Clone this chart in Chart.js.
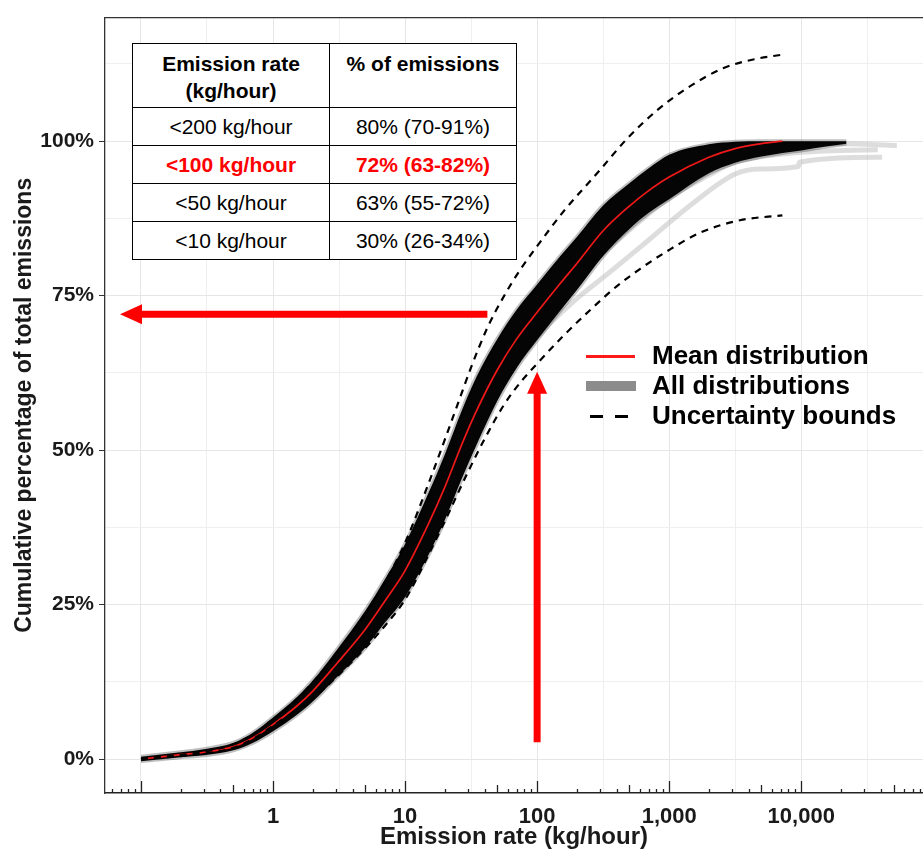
<!DOCTYPE html>
<html>
<head>
<meta charset="utf-8">
<script src="https://cdn.jsdelivr.net/npm/chart.js@4/dist/chart.umd.min.js"></script>
<style>
  body { margin: 0; background: #fff; }
  #wrap { position: relative; width: 923px; height: 849px; font-family: "Liberation Sans", Arial, sans-serif; }
  #tbl { position: absolute; left: 132px; top: 43px; width: 385px; border-collapse: collapse; background: #fff; font-size: 21px; color: #000; }
  #tbl td { border: 1.5px solid #000; text-align: center; padding: 0; height: 37px; }
  #tbl td.h { font-weight: bold; vertical-align: top; height: 64px; line-height: 27px; padding-top: 6px; box-sizing: border-box; }
  #tbl tr.hi td { color: #ff0000; font-weight: bold; }
  #legend { position: absolute; left: 586px; top: 340px; font-weight: bold; font-size: 26px; color: #000; }
  .row { position: relative; height: 30px; line-height: 30px; padding-left: 66px; white-space: nowrap; }
  .sym { position: absolute; left: 0; }
</style>
</head>
<body>
<div id="wrap">
  <canvas id="c" width="923" height="849"></canvas>
  <table id="tbl"></table>
  <div id="legend"></div>
</div>
<script>
// mean distribution
const meanX = [0.1, 0.2, 0.3, 0.5, 0.7, 1, 1.5, 2, 3, 5, 7, 10, 15, 20, 27, 35, 50, 70, 100, 150, 200, 316, 500, 700, 1000, 2000, 3162, 5000, 7200];
const meanY = [0, 0.7, 1.1, 2, 3.4, 5.6, 8.5, 11, 15.3, 21, 25.5, 30.5, 38, 44, 51, 56.5, 63, 68, 72.3, 77, 80.2, 85.5, 89.5, 92, 94.2, 97.4, 98.8, 99.6, 100];

// uncertainty bounds
const upperX = [0.1, 0.3, 0.5, 0.7, 1, 1.5, 2, 3, 5, 7, 10, 15, 20, 25, 31.5, 42, 55, 75, 100, 158, 290, 480, 810, 1370, 2560, 4500, 7200];
const upperY = [0, 1.2, 2.4, 3.9, 6.4, 9.6, 12.4, 16.9, 23.5, 28.5, 35, 44.5, 51.7, 57.4, 63.3, 69.8, 74.6, 79.3, 83, 88.6, 95, 100.4, 105, 108.6, 111.8, 113.3, 114];
const lowerX = [0.1, 0.3, 0.5, 0.7, 1, 2, 3, 5, 7, 10, 15, 20, 30, 40, 56, 75, 100, 158, 250, 400, 600, 965, 1720, 3440, 7200];
const lowerY = [0, 0.9, 1.8, 3.2, 5.4, 9.8, 13.2, 18, 21.5, 25.8, 33, 38.5, 46.5, 51.8, 57.3, 61, 64, 68.5, 72.6, 76.5, 79.3, 82.2, 85.2, 87.2, 88];

// envelope of all distributions (dark band)
const bandX  = [0.1, 0.2, 0.3, 0.5, 0.7, 1, 1.5, 2, 3, 5, 7, 10, 15, 20, 27, 35, 50, 70, 100, 150, 200, 316, 500, 700, 1000, 2000, 3162, 5000, 7200, 10000, 15000, 22000];
const bandHi = [0.35, 1.1, 1.6, 2.6, 4.2, 6.7, 9.9, 12.7, 17.5, 24, 29, 34.8, 43, 49.3, 56.5, 62, 68, 72.7, 76.8, 81.4, 84.5, 89.6, 93.2, 95.6, 97.8, 99.5, 99.9, 100, 100, 100, 100, 100];
const bandLo = [-0.35, 0.3, 0.6, 1.4, 2.6, 4.5, 7.1, 9.3, 13.1, 18, 22, 26.2, 33, 38.7, 45.5, 51, 58, 63.3, 67.8, 72.6, 75.9, 81.4, 85.8, 88.4, 90.6, 94.8, 96.5, 97.5, 98.1, 98.5, 99.1, 99.6];

// a few stray distributions that run outside the band
const tail1X = [70, 100, 187, 375, 700, 1440, 3162, 4800, 9500, 9700, 41000];
const tail1Y = [64, 68.3, 74, 79.2, 84, 89.6, 94.7, 95.5, 95.9, 96.6, 97.4];
const tail2X = [300, 1000, 2000, 3162, 10000, 20000, 38000];
const tail2Y = [81.5, 90.8, 94.5, 96.6, 98.2, 98.5, 98.6];
const tail3X = [2000, 5000, 10000, 20000, 53000];
const tail3Y = [98.6, 99.4, 99.6, 99.6, 99.3];

// axes
const xGridVals = [0.1, 0.316, 1, 3.16, 10, 31.6, 100, 316, 1000, 3162, 10000, 31623];
const xLabelVals = [1, 10, 100, 1000, 10000];
const xLabelText = ['1', '10', '100', '1,000', '10,000'];
const yGridVals = [0, 12.5, 25, 37.5, 50, 62.5, 75, 87.5, 100, 112.5];
const yLabelVals = [0, 25, 50, 75, 100];

// arrows (start -> tip, data units)
const arrowStartX = [42, 100];
const arrowStartY = [72, 2.7];
const arrowEndX = [0.0694, 100];
const arrowEndY = [72, 62.7];

// inset table
const tableHead = ['Emission rate<br>(kg/hour)', '% of emissions'];
const tableRate = ['<200 kg/hour', '<100 kg/hour', '<50 kg/hour', '<10 kg/hour'];
const tablePct = ['80% (70-91%)', '72% (63-82%)', '63% (55-72%)', '30% (26-34%)'];
const tableHighlight = 1;

const legendItems = ['Mean distribution', 'All distributions', 'Uncertainty bounds'];

const pts = (xs, ys) => xs.map((x, i) => ({ x: x, y: ys[i] }));
const FONT = '"Liberation Sans", Arial, sans-serif';
const TXT = '#1a1a1a';

// table
const esc = s => s.replace(/</g, '&lt;');
let html = '<tr><td class="h">' + tableHead[0] + '</td><td class="h">' + tableHead[1] + '</td></tr>';
tableRate.forEach((r, i) => {
  html += '<tr' + (i === tableHighlight ? ' class="hi"' : '') + '><td style="width:196px">' + esc(r) + '</td><td>' + tablePct[i] + '</td></tr>';
});
document.getElementById('tbl').innerHTML = html;

// legend
const syms = [
  '<div class="sym" style="top:15px;width:49px;height:3px;background:#ff1a1a"></div>',
  '<div class="sym" style="top:11px;width:50px;height:10px;background:#8c8c8c"></div>',
  '<div class="sym" style="top:15px;left:4px;width:13px;height:3px;background:#000"></div><div class="sym" style="top:15px;left:29px;width:13px;height:3px;background:#000"></div>'
];
document.getElementById('legend').innerHTML = legendItems.map((t, i) =>
  '<div class="row">' + syms[i] + t + '</div>').join('');

const decor = {
  id: 'decor',
  afterDatasetsDraw(chart) {
    const { ctx, scales: { x, y } } = chart;
    ctx.save();
    ctx.fillStyle = '#ff0000';
    ctx.strokeStyle = '#ff0000';
    ctx.lineWidth = 7;
    for (let i = 0; i < arrowStartX.length; i++) {
      const x0 = x.getPixelForValue(arrowStartX[i]), y0 = y.getPixelForValue(arrowStartY[i]);
      const x1 = x.getPixelForValue(arrowEndX[i]), y1 = y.getPixelForValue(arrowEndY[i]);
      const len = Math.hypot(x1 - x0, y1 - y0);
      const ux = (x1 - x0) / len, uy = (y1 - y0) / len;
      const head = 22, half = 10;
      const bx = x1 - ux * head, by = y1 - uy * head;
      ctx.beginPath();
      ctx.moveTo(x0, y0);
      ctx.lineTo(bx + ux, by + uy);
      ctx.stroke();
      ctx.beginPath();
      ctx.moveTo(x1, y1);
      ctx.lineTo(bx - uy * half, by + ux * half);
      ctx.lineTo(bx + uy * half, by - ux * half);
      ctx.closePath();
      ctx.fill();
    }
    ctx.restore();
  },
  afterDraw(chart) {
    const { ctx, chartArea: a, scales: { x } } = chart;
    ctx.save();
    // top panel border
    ctx.strokeStyle = '#333';
    ctx.lineWidth = 1.3;
    ctx.beginPath();
    ctx.moveTo(a.left, a.top);
    ctx.lineTo(a.right, a.top);
    ctx.stroke();
    // log ticks on the bottom axis
    ctx.strokeStyle = '#222';
    for (let e = -2; e <= 4; e++) {
      for (let m = 1; m <= 9; m++) {
        const v = m * Math.pow(10, e);
        if (v < x.min || v > x.max) continue;
        const px = Math.round(x.getPixelForValue(v)) + 0.5;
        const h = m === 1 ? 12 : (m === 5 ? 8 : 4);
        ctx.beginPath();
        ctx.moveTo(px, a.bottom);
        ctx.lineTo(px, a.bottom - h);
        ctx.stroke();
      }
    }
    ctx.restore();
  }
};

const line = (data, color, width, order, extra) => Object.assign({
  data: data, borderColor: color, borderWidth: width, pointRadius: 0,
  fill: false, cubicInterpolationMode: 'monotone', order: order
}, extra || {});

new Chart(document.getElementById('c'), {
  type: 'line',
  data: {
    datasets: [
      line(pts(tail1X, tail1Y), 'rgba(170,170,170,0.4)', 5, 9),
      line(pts(tail2X, tail2Y), 'rgba(170,170,170,0.4)', 5, 8),
      line(pts(tail3X, tail3Y), 'rgba(170,170,170,0.4)', 5, 7),
      line(pts(bandX, bandHi), 'rgba(0,0,0,0.25)', 4, 5, { fill: '+1', backgroundColor: '#050505' }),
      line(pts(bandX, bandLo), 'rgba(0,0,0,0.25)', 4, 6),
      line(pts(meanX, meanY), '#f01818', 1.7, 2),
      line(pts(upperX, upperY), '#000', 2.2, 1, { borderDash: [7, 6] }),
      line(pts(lowerX, lowerY), '#000', 2.2, 1, { borderDash: [7, 6] })
    ]
  },
  options: {
    responsive: false,
    animation: false,
    devicePixelRatio: 1,
    layout: { padding: { top: 13, right: 0, left: 0, bottom: 0 } },
    plugins: {
      legend: { display: false },
      tooltip: { enabled: false },
      filler: { drawTime: 'beforeDatasetDraw' }
    },
    scales: {
      x: {
        type: 'logarithmic',
        min: 0.0534,
        max: 83600,
        afterBuildTicks: s => { s.ticks = xGridVals.map(v => ({ value: v })); },
        afterFit: s => { s.height = 56; },
        ticks: {
          autoSkip: false, maxRotation: 0, padding: 11, color: TXT,
          font: { family: FONT, size: 22, weight: 'bold' },
          callback: v => {
            const i = xLabelVals.findIndex(l => Math.abs(Math.log10(l) - Math.log10(v)) < 1e-6);
            return i >= 0 ? xLabelText[i] : '';
          }
        },
        grid: {
          color: ctx => (ctx.index % 2 === 0 ? '#e6e6e6' : '#efefef'),
          lineWidth: 1, drawTicks: false
        },
        border: { display: true, color: '#222', width: 1.5 },
        title: {
          display: true, text: 'Emission rate (kg/hour)', color: TXT,
          font: { family: FONT, size: 24, weight: 'bold', lineHeight: 1 },
          padding: { top: 0, bottom: 0 }
        }
      },
      y: {
        min: -5.5,
        max: 120,
        afterBuildTicks: s => { s.ticks = yGridVals.map(v => ({ value: v })); },
        afterFit: s => { s.width = 105; },
        ticks: {
          padding: 5, color: TXT,
          font: { family: FONT, size: 21, weight: 'bold' },
          callback: v => (yLabelVals.includes(v) ? v + '%' : '')
        },
        grid: {
          color: ctx => (ctx.tick && yLabelVals.includes(ctx.tick.value) ? '#e6e6e6' : '#efefef'),
          tickColor: ctx => (ctx.tick && yLabelVals.includes(ctx.tick.value) ? '#333' : 'rgba(0,0,0,0)'),
          lineWidth: 1, drawTicks: true, tickLength: 6
        },
        border: { display: true, color: '#333', width: 1.3 },
        title: {
          display: true, text: 'Cumulative percentage of total emissions', color: TXT,
          font: { family: FONT, size: 23, weight: 'bold', lineHeight: 1 },
          padding: { top: 13, bottom: 0 }
        }
      }
    }
  },
  plugins: [decor]
});
</script>
</body>
</html>
